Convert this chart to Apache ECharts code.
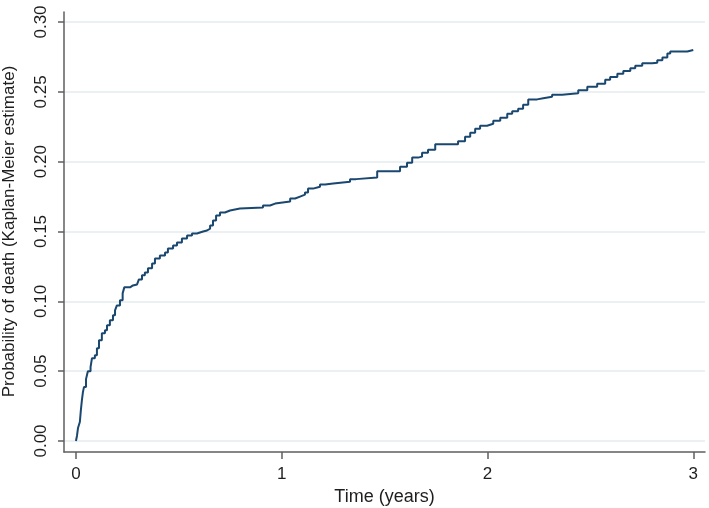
<!DOCTYPE html>
<html>
<head>
<meta charset="utf-8">
<script src="https://cdn.jsdelivr.net/npm/echarts@6/dist/echarts.min.js"></script>
<style>
html,body{margin:0;padding:0;background:#fff;}
#chart{width:709px;height:508px;}
</style>
</head>
<body>
<div id="chart"></div>
<script>
// Kaplan-Meier failure estimate
const times = [0.000,0.005,0.010,0.019,0.024,0.029,0.034,0.039,0.049,0.058,0.071,0.078,0.092,0.102,0.112,0.126,0.141,0.151,0.165,0.180,0.190,0.199,0.214,0.227,0.235,0.263,0.277,0.297,0.306,0.321,0.335,0.350,0.370,0.384,0.408,0.433,0.447,0.472,0.491,0.515,0.540,0.564,0.588,0.618,0.637,0.652,0.666,0.681,0.700,0.724,0.749,0.773,0.797,0.909,0.943,0.968,1.041,1.065,1.089,1.113,1.128,1.152,1.186,1.211,1.250,1.332,1.361,1.464,1.575,1.609,1.634,1.663,1.682,1.711,1.746,1.857,1.891,1.916,1.940,1.964,1.998,2.028,2.062,2.096,2.120,2.149,2.173,2.198,2.241,2.271,2.314,2.363,2.441,2.485,2.533,2.572,2.596,2.631,2.660,2.694,2.718,2.752,2.801,2.825,2.850,2.874,2.888,2.971,3.000];
const probs = [0.0000,0.0036,0.0093,0.0136,0.0221,0.0293,0.0350,0.0386,0.0443,0.0500,0.0529,0.0593,0.0614,0.0664,0.0721,0.0771,0.0793,0.0829,0.0864,0.0900,0.0936,0.0971,0.1007,0.1057,0.1100,0.1114,0.1121,0.1129,0.1157,0.1186,0.1207,0.1236,0.1271,0.1307,0.1329,0.1350,0.1379,0.1400,0.1421,0.1450,0.1471,0.1486,0.1500,0.1507,0.1521,0.1543,0.1579,0.1614,0.1636,0.1650,0.1657,0.1664,0.1671,0.1686,0.1700,0.1714,0.1736,0.1750,0.1764,0.1779,0.1807,0.1821,0.1836,0.1843,0.1857,0.1875,0.1886,0.1931,0.1964,0.1993,0.2029,0.2036,0.2064,0.2086,0.2125,0.2146,0.2179,0.2207,0.2236,0.2257,0.2271,0.2293,0.2314,0.2343,0.2361,0.2379,0.2407,0.2446,0.2454,0.2464,0.2479,0.2489,0.2512,0.2536,0.2557,0.2586,0.2607,0.2629,0.2650,0.2669,0.2686,0.2705,0.2709,0.2726,0.2745,0.2774,0.2789,0.2800,0.2805];
const xTicks = [0, 1, 2, 3];
const yTicks = ['0.00','0.05','0.10','0.15','0.20','0.25','0.30'];
const xTitle = 'Time (years)';
const yTitle = 'Probability of death (Kaplan-Meier estimate)';

const FONT = "'Liberation Sans', Arial, sans-serif";
const TXT = '#1e1e1e';
const AXC = '#5f5f5f';

const chart = echarts.init(document.getElementById('chart'), null, {renderer: 'canvas'});
chart.setOption({
  backgroundColor: '#fff',
  animation: false,
  grid: [
    {left: 64, right: 4, top: 22, bottom: 67, containLabel: false, outerBoundsMode: 'none'},
    {left: 64, right: 4, top: 12, bottom: 56, containLabel: false, outerBoundsMode: 'none'}
  ],
  xAxis: [
    {
      gridIndex: 0, type: 'value', min: -0.058, max: 3.057, offset: 11, position: 'bottom',
      axisLine: {show: true, onZero: false, lineStyle: {color: AXC, width: 1.5}},
      axisTick: {show: true, inside: false, length: 7, customValues: xTicks, lineStyle: {color: AXC, width: 1.5}},
      axisLabel: {customValues: xTicks, color: TXT, fontSize: 17, fontFamily: FONT, margin: 14,
                  formatter: v => String(Math.round(v))},
      splitLine: {show: false},
      name: xTitle, nameLocation: 'middle', nameGap: 34,
      nameTextStyle: {color: TXT, fontSize: 18, fontFamily: FONT}
    },
    {
      gridIndex: 1, type: 'value', min: 0, max: 1, show: false
    }
  ],
  yAxis: [
    {
      gridIndex: 0, type: 'value', min: 0, max: 0.3, interval: 0.05, position: 'left',
      axisLine: {show: false, onZero: false},
      axisTick: {show: true, inside: false, length: 6, lineStyle: {color: AXC, width: 1.5}},
      axisLabel: {color: TXT, fontSize: 17, fontFamily: FONT, rotate: 90, margin: 14,
                  formatter: v => yTicks[Math.round(v / 0.05)]},
      splitLine: {show: true, lineStyle: {color: '#e4ebef', width: 1.5}},
      name: yTitle, nameLocation: 'middle', nameRotate: 90, nameGap: 46,
      nameTextStyle: {color: TXT, fontSize: 17, fontFamily: FONT}
    },
    {
      gridIndex: 1, type: 'value', min: 0, max: 1, position: 'left',
      axisLine: {show: true, onZero: false, lineStyle: {color: AXC, width: 1.5}},
      axisTick: {show: false}, axisLabel: {show: false}, splitLine: {show: false}
    }
  ],
  series: [{
    type: 'line',
    xAxisIndex: 0, yAxisIndex: 0,
    step: 'end',
    showSymbol: false,
    symbol: 'none',
    lineStyle: {color: '#1a476f', width: 2},
    data: times.map((t, i) => [t, probs[i]])
  }, {
    type: 'line', xAxisIndex: 1, yAxisIndex: 1, data: [], silent: true
  }]
});
</script>
</body>
</html>
